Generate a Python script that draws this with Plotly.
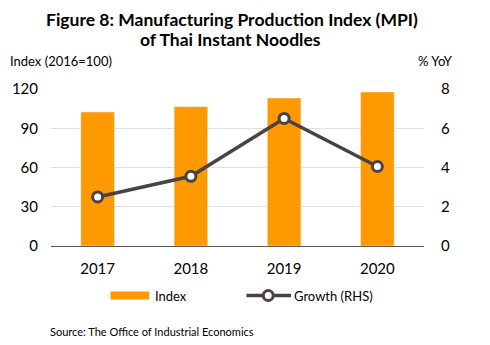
import plotly.graph_objects as go

years = ["2017", "2018", "2019", "2020"]
index_values = [102.4, 106.5, 113.1, 117.7]
growth_values = [2.5, 3.55, 6.5, 4.05]
left_ticks = [0, 30, 60, 90, 120]
right_ticks = [0, 2, 4, 6, 8]
title_lines = ["Figure 8: Manufacturing Production Index (MPI)", "of Thai Instant Noodles"]

FONT = "Lato"
ORANGE = "#FF9900"
DARK = "#4A4243"

# plot area in pixels
L, R, T, B = 48, 424, 89, 246
PW, PH = R - L, B - T


def px(x):
    return (x - L) / PW


def py(y):
    return (B - y) / PH


fig = go.Figure()
fig.add_trace(go.Bar(
    x=years, y=index_values, name="Index", marker_color=ORANGE,
    width=0.36, yaxis="y", showlegend=False,
))
fig.add_trace(go.Scatter(
    x=years, y=growth_values, name="Growth (RHS)", yaxis="y2",
    mode="lines+markers", showlegend=False,
    line=dict(color=DARK, width=3.5),
    marker=dict(size=10, color="white", line=dict(color=DARK, width=3)),
))

fig.update_layout(
    width=490, height=345,
    margin=dict(l=L, r=490 - R, t=T, b=345 - B),
    paper_bgcolor="white", plot_bgcolor="white",
    font=dict(family=FONT, size=14, color="#000000"),
    showlegend=False,
    xaxis=dict(showgrid=False, showline=True, linecolor="#595959", linewidth=1,
               ticks="", tickfont=dict(size=15), ticklabelstandoff=9),
    yaxis=dict(range=[0, 120], tickvals=left_ticks, showgrid=True, gridcolor="#E0E0E0",
               gridwidth=1, zeroline=False, tickfont=dict(size=15), ticklabelstandoff=12),
    yaxis2=dict(range=[0, 8], tickvals=right_ticks, overlaying="y", side="right",
                showgrid=False, zeroline=False, tickfont=dict(size=15), ticklabelstandoff=16),
    bargap=0.64,
)

# title
fig.add_annotation(text="<b>" + title_lines[0] + "</b>", xref="paper", yref="paper",
                   x=px(230.5), y=py(19), showarrow=False, font=dict(size=17.5, family=FONT),
                   xanchor="center", yanchor="middle")
fig.add_annotation(text="<b>" + title_lines[1] + "</b>", xref="paper", yref="paper",
                   x=px(229), y=py(39), showarrow=False, font=dict(size=17.5, family=FONT),
                   xanchor="center", yanchor="middle")
# axis titles
fig.add_annotation(text="Index (2016=100)", xref="paper", yref="paper",
                   x=px(5), y=py(61), xanchor="left", yanchor="middle",
                   showarrow=False, font=dict(size=13, family=FONT))
fig.add_annotation(text="% YoY", xref="paper", yref="paper",
                   x=px(455), y=py(61), xanchor="right", yanchor="middle",
                   showarrow=False, font=dict(size=13, family=FONT))
# source
fig.add_annotation(text="Source: The Office of Industrial Economics", xref="paper", yref="paper",
                   x=px(45), y=py(331), xanchor="left", yanchor="middle",
                   showarrow=False, font=dict(size=11, family=FONT))

# legend (custom)
LY = 295.5
fig.add_shape(type="rect", xref="paper", yref="paper",
              x0=px(108), x1=px(147), y0=py(299.5), y1=py(291.5),
              fillcolor=ORANGE, line=dict(width=0))
fig.add_annotation(text="Index", xref="paper", yref="paper", x=px(151), y=py(LY),
                   xanchor="left", yanchor="middle", showarrow=False,
                   font=dict(size=13, family=FONT))
fig.add_shape(type="line", xref="paper", yref="paper",
              x0=px(245), x1=px(290), y0=py(LY), y1=py(LY),
              line=dict(color=DARK, width=3.5))
fig.add_shape(type="circle", xref="paper", yref="paper",
              xsizemode="pixel", ysizemode="pixel",
              xanchor=px(267), yanchor=py(LY), x0=-5, x1=5, y0=-5, y1=5,
              fillcolor="white", line=dict(color=DARK, width=3))
fig.add_annotation(text="Growth (RHS)", xref="paper", yref="paper", x=px(291), y=py(LY),
                   xanchor="left", yanchor="middle", showarrow=False,
                   font=dict(size=13, family=FONT))

fig.write_html("out.html")
